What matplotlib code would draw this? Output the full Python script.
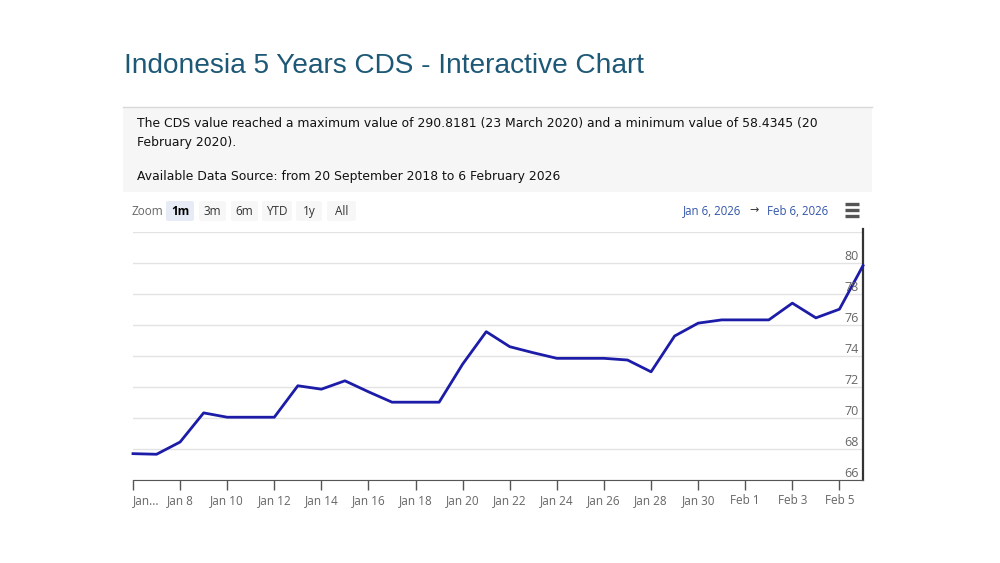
import numpy as np
import pandas as pd
import matplotlib
matplotlib.use("Agg")
import matplotlib.pyplot as plt
import matplotlib.dates as mdates
from matplotlib.patches import Rectangle, FancyBboxPatch

# daily CDS values, 6 Jan 2026 .. 6 Feb 2026
dates = pd.date_range("2026-01-06", "2026-02-06", freq="D")
cds = [67.70, 67.66, 68.45, 70.33, 70.05, 70.05, 70.05, 72.08, 71.86, 72.40,
       71.69, 71.02, 71.02, 71.02, 73.48, 75.57, 74.60, 74.21, 73.85, 73.85,
       73.85, 73.74, 72.98, 75.29, 76.12, 76.33, 76.33, 76.33, 77.41, 76.46,
       77.02, 79.83]

tick_dates = pd.date_range("2026-01-06", "2026-02-05", freq="2D")
tick_labels = ["Jan..."] + [d.strftime("%b ") + str(d.day) for d in tick_dates[1:]]
y_ticks = [66, 68, 70, 72, 74, 76, 78, 80]
zoom_buttons = ["1m", "3m", "6m", "YTD", "1y", "All"]

title = "Indonesia 5 Years CDS - Interactive Chart"
info1 = "The CDS value reached a maximum value of 290.8181 (23 March 2020) and a minimum value of 58.4345 (20"
info2 = "February 2020)."
info3 = "Available Data Source: from 20 September 2018 to 6 February 2026"

W, H = 1000, 563
fig = plt.figure(figsize=(W / 100, H / 100), dpi=100)
fig.patch.set_facecolor("white")


def fx(x):
    return x / W


def fy(y):
    return 1 - y / H


# title
fig.text(fx(124), fy(66), title, fontsize=20.2, color="#1d5876",
         family="Liberation Sans", va="center", ha="left")

# info box
fig.patches.append(Rectangle((fx(123), fy(192)), fx(872) - fx(123), fy(107) - fy(192),
                             transform=fig.transFigure, facecolor="#f6f6f6",
                             edgecolor="none", zorder=0))
fig.lines.append(plt.Line2D([fx(123), fx(872)], [fy(107), fy(107)],
                            transform=fig.transFigure, color="#d8d8d8", lw=1))
for txt, yy in [(info1, 124), (info2, 142), (info3, 177)]:
    fig.text(fx(137), fy(yy), txt, fontsize=8.95, color="#111111",
             family="DejaVu Sans", va="center", ha="left")

# range selector
fig.text(fx(132), fy(211), "Zoom", fontsize=8.5, color="#666666",
         family="Open Sans", va="center", ha="left")
btn_x = [166, 199, 231, 262, 296, 327]
btn_w = [28, 27, 27, 30, 26, 29]
for lab, bx, bw in zip(zoom_buttons, btn_x, btn_w):
    sel = lab == "1m"
    fig.patches.append(FancyBboxPatch((fx(bx), fy(221)), fx(bw), fy(201) - fy(221),
                                      boxstyle="round,pad=0,rounding_size=0.003",
                                      transform=fig.transFigure,
                                      facecolor="#e6ebf5" if sel else "#f7f7f7",
                                      edgecolor="none"))
    fig.text(fx(bx + bw / 2), fy(211), lab, fontsize=8.5,
             color="#000000" if sel else "#333333",
             fontweight="bold" if sel else "normal",
             family="Open Sans", va="center", ha="center")

fig.text(fx(741), fy(211), "Jan 6, 2026", fontsize=8.3, color="#3355aa",
         family="Open Sans", va="center", ha="right")
fig.text(fx(754), fy(210), "\u2192", fontsize=8, color="#333333",
         family="DejaVu Sans", va="center", ha="center")
fig.text(fx(767), fy(211), "Feb 6, 2026", fontsize=8.3, color="#3355aa",
         family="Open Sans", va="center", ha="left")
for hy in [204, 210, 216]:
    fig.lines.append(plt.Line2D([fx(845), fx(859)], [fy(hy), fy(hy)],
                                transform=fig.transFigure, color="#555555",
                                lw=2.4, solid_capstyle="butt"))

# chart
ax = fig.add_axes([fx(133), fy(480), fx(863) - fx(133), fy(232) - fy(480)])
ax.plot(dates, cds, color="#1c1ca8", lw=2, zorder=3, clip_on=False)

ax.set_xlim(dates[0], dates[-1])
ax.set_ylim(66, 82)
ax.set_yticks(y_ticks + [82])
ax.grid(axis="y", color="#e3e3e3", lw=1)
ax.tick_params(axis="y", left=False, right=False, labelleft=False, labelright=False)
for v in y_ticks:
    ax.annotate(str(v), xy=(1, v), xycoords=ax.get_yaxis_transform(),
                xytext=(-3, 4.5), textcoords="offset points",
                ha="right", va="center", fontsize=9, color="#666666",
                family="Open Sans")

ax.set_xticks(mdates.date2num(tick_dates))
ax.set_xticklabels(tick_labels)
ax.tick_params(axis="x", direction="out", length=7, width=1, color="#555555",
               labelsize=8.5, labelcolor="#666666", pad=3)
for lab in ax.get_xticklabels():
    lab.set_family("Open Sans")
ax.get_xticklabels()[0].set_ha("left")

for s in ["top", "left"]:
    ax.spines[s].set_visible(False)
ax.spines["bottom"].set_color("#555555")
ax.spines["right"].set_color("#333333")
ax.spines["right"].set_linewidth(1.6)
ax.spines["right"].set_bounds(66, 82.2)
ax.set_facecolor("white")

fig.savefig("out.png", dpi=100)
